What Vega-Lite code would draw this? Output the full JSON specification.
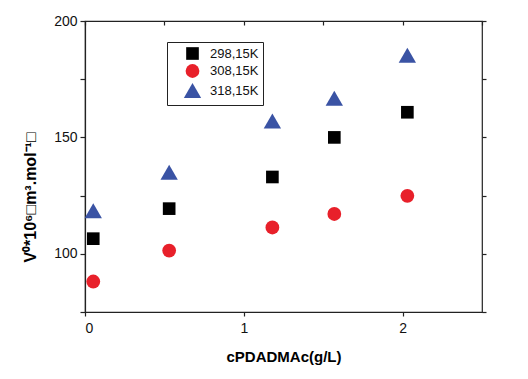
{
  "$schema": "https://vega.github.io/schema/vega-lite/v6.json",
  "width": 397,
  "height": 291,
  "autosize": {"type": "none"},
  "padding": {"left": 85, "top": 21, "right": 46, "bottom": 67},
  "background": "white",
  "config": {
    "font": "Liberation Sans",
    "view": {"stroke": "#222", "strokeWidth": 1.2},
    "axis": {"grid": false, "domainColor": "#222", "tickColor": "#222", "labelColor": "#111", "labelFont": "Liberation Sans", "titleFont": "Liberation Sans"}
  },
  "data": {
    "values": [
      {"c": 0.052, "v": 106.5, "T": "298,15K"},
      {"c": 0.53, "v": 119.4, "T": "298,15K"},
      {"c": 1.18, "v": 133.0, "T": "298,15K"},
      {"c": 1.57, "v": 150.0, "T": "298,15K"},
      {"c": 2.03, "v": 160.8, "T": "298,15K"},
      {"c": 0.052, "v": 88.1, "T": "308,15K"},
      {"c": 0.53, "v": 101.4, "T": "308,15K"},
      {"c": 1.18, "v": 111.3, "T": "308,15K"},
      {"c": 1.57, "v": 117.1, "T": "308,15K"},
      {"c": 2.03, "v": 124.9, "T": "308,15K"},
      {"c": 0.052, "v": 118.5, "T": "318,15K"},
      {"c": 0.53, "v": 135.0, "T": "318,15K"},
      {"c": 1.18, "v": 157.0, "T": "318,15K"},
      {"c": 1.57, "v": 166.8, "T": "318,15K"},
      {"c": 2.03, "v": 185.3, "T": "318,15K"}
    ]
  },
  "layer": [
    {
      "mark": {"type": "point", "filled": true, "opacity": 1},
      "encoding": {
        "x": {
          "field": "c", "type": "quantitative",
          "scale": {"domain": [0, 2.5], "nice": false, "zero": false},
          "axis": {
            "orient": "bottom",
            "values": [0, 0.5, 1, 1.5, 2, 2.5],
            "format": "d",
            "labelExpr": "datum.value % 1 === 0 && datum.value < 2.5 ? datum.label : ''",
            "tickSize": 4, "labelFontSize": 14, "labelPadding": 5,
            "title": "cPDADMAc(g/L)", "titleFontSize": 15, "titleFontWeight": "bold",
            "titlePadding": 14, "domainWidth": 1.2, "tickWidth": 1.2
          }
        },
        "y": {
          "field": "v", "type": "quantitative",
          "scale": {"domain": [75, 200], "nice": false, "zero": false},
          "axis": {
            "orient": "left",
            "values": [75, 100, 125, 150, 175, 200],
            "labelExpr": "datum.value % 50 === 0 ? datum.label : ''",
            "tickSize": 5, "labelFontSize": 14, "labelPadding": 3,
            "title": "V⁰*10⁶□m³.mol⁻¹□", "titleFontSize": 16, "titleFontWeight": "bold",
            "titleX": -47, "titleY": 176, "titleAngle": -90, "titleAlign": "center", "titleBaseline": "bottom",
            "domainWidth": 1.2, "tickWidth": 1.2
          }
        },
        "color": {
          "field": "T", "type": "nominal",
          "scale": {"domain": ["298,15K", "308,15K", "318,15K"], "range": ["#000000", "#e8202a", "#3a53a4"]},
          "legend": {
            "orient": "none", "legendX": 82, "legendY": 21, "title": null,
            "strokeColor": "#222", "padding": 4, "labelFontSize": 13, "labelColor": "#111",
            "rowPadding": -4, "symbolOpacity": 1, "symbolSize": 200, "symbolOffset": 12, "labelOffset": 8
          }
        },
        "shape": {
          "field": "T", "type": "nominal",
          "scale": {"domain": ["298,15K", "308,15K", "318,15K"], "range": ["square", "circle", "triangle-up"]}
        },
        "size": {
          "field": "T", "type": "nominal",
          "scale": {"type": "ordinal", "domain": ["298,15K", "308,15K", "318,15K"], "range": [160, 190, 300]},
          "legend": null
        }
      }
    },
    {
      "mark": {"type": "point", "opacity": 0},
      "encoding": {
        "x": {
          "field": "c", "type": "quantitative",
          "scale": {"domain": [0, 2.5], "nice": false, "zero": false},
          "axis": {"orient": "top", "values": [0, 0.5, 1, 1.5, 2, 2.5], "labels": false, "title": null, "tickSize": -4, "domain": false, "tickWidth": 1.2}
        },
        "y": {
          "field": "v", "type": "quantitative",
          "scale": {"domain": [75, 200], "nice": false, "zero": false},
          "axis": {"orient": "right", "values": [75, 100, 125, 150, 175, 200], "labels": false, "title": null, "tickSize": 4, "domain": false, "tickWidth": 1.2}
        }
      }
    }
  ],
  "resolve": {"axis": {"x": "independent", "y": "independent"}}
}
